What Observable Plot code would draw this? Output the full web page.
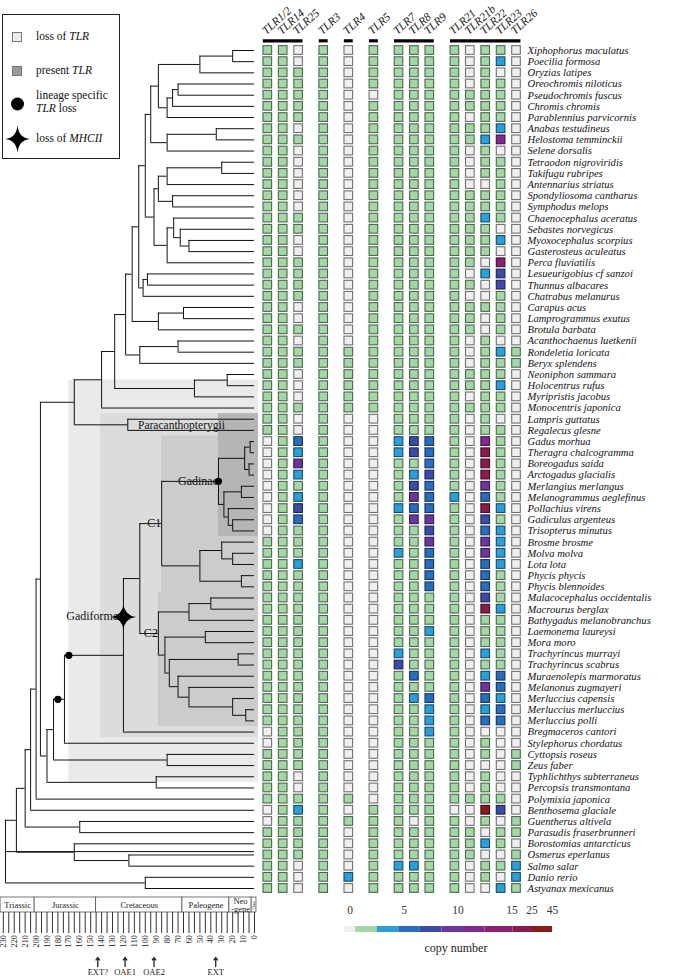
<!DOCTYPE html>
<html><head><meta charset="utf-8">
<script src="https://cdn.jsdelivr.net/npm/d3@7"></script>
<script src="https://cdn.jsdelivr.net/npm/@observablehq/plot@0.6"></script>
<style>
body{margin:0;background:#fff;}
#root{position:relative;width:676px;height:979px;overflow:hidden;font-family:"Liberation Serif",serif;}
#root svg.layer{position:absolute;left:0;top:0;}
#legend{position:absolute;left:2px;top:14px;width:118px;height:145px;border:1px solid #222;background:#fff;font-size:11.5px;color:#111;box-sizing:border-box;}
#legend .it{position:absolute;left:33px;line-height:13px;}
#legend i{font-style:italic;}
</style></head><body><div id="root">
<div id="legend">
  <svg width="118" height="145" style="position:absolute;left:0;top:0">
    <rect x="9.5" y="17.5" width="9" height="9" fill="#eeeeee" stroke="#777"/>
    <rect x="9.5" y="51.5" width="9" height="9" fill="#9a9a9a" stroke="#777"/>
    <circle cx="14.5" cy="89" r="6.5" fill="#000"/>
    <path d="M14.5,110 Q15.5,123 27,124 Q15.5,125 14.5,138 Q13.5,125 2,124 Q13.5,123 14.5,110Z" fill="#000"/>
  </svg>
  <div class="it" style="top:15px">loss of <i>TLR</i></div>
  <div class="it" style="top:49px">present <i>TLR</i></div>
  <div class="it" style="top:74px">lineage specific<br><i>TLR</i> loss</div>
  <div class="it" style="top:117px">loss of <i>MHCII</i></div>
</div>
</div>
<script>
// ---------------- DATA ----------------
const tlrGroups = [["TLR1/2","TLR14","TLR25"],["TLR3"],["TLR4"],["TLR5"],["TLR7","TLR8","TLR9"],["TLR21","TLR21b","TLR22","TLR23","TLR26"]];

const species = ["Xiphophorus maculatus","Poecilia formosa","Oryzias latipes","Oreochromis niloticus","Pseudochromis fuscus","Chromis chromis","Parablennius parvicornis","Anabas testudineus","Helostoma temminckii","Selene dorsalis","Tetraodon nigroviridis","Takifugu rubripes","Antennarius striatus","Spondyliosoma cantharus","Symphodus melops","Chaenocephalus aceratus","Sebastes norvegicus","Myoxocephalus scorpius","Gasterosteus aculeatus","Perca fluviatilis","Lesueurigobius cf sanzoi","Thunnus albacares","Chatrabus melanurus","Carapus acus","Lamprogrammus exutus","Brotula barbata","Acanthochaenus luetkenii","Rondeletia loricata","Beryx splendens","Neoniphon sammara","Holocentrus rufus","Myripristis jacobus","Monocentris japonica","Lampris guttatus","Regalecus glesne","Gadus morhua","Theragra chalcogramma","Boreogadus saida","Arctogadus glacialis","Merlangius merlangus","Melanogrammus aeglefinus","Pollachius virens","Gadiculus argenteus","Trisopterus minutus","Brosme brosme","Molva molva","Lota lota","Phycis phycis","Phycis blennoides","Malacocephalus occidentalis","Macrourus berglax","Bathygadus melanobranchus","Laemonema laureysi","Mora moro","Trachyrincus murrayi","Trachyrincus scabrus","Muraenolepis marmoratus","Melanonus zugmayeri","Merluccius capensis","Merluccius merluccius","Merluccius polli","Bregmaceros cantori","Stylephorus chordatus","Cyttopsis roseus","Zeus faber","Typhlichthys subterraneus","Percopsis transmontana","Polymixia japonica","Benthosema glaciale","Guentherus altivela","Parasudis fraserbrunneri","Borostomias antarcticus","Osmerus eperlanus","Salmo salar","Danio rerio","Astyanax mexicanus"];

// copy numbers, one row per species, columns in tlrGroups order
const copies = [
[1,1,0,1,0,1,1,1,1,1,0,1,1,0],[1,1,0,1,0,1,1,1,1,1,0,1,3,0],[1,1,1,1,0,1,1,1,1,1,0,1,0,0],[1,1,1,1,0,1,1,1,1,1,0,1,1,0],
[1,1,1,1,0,0,1,1,1,1,1,1,1,0],[1,1,1,1,0,1,1,1,1,1,1,1,1,0],[1,1,1,1,0,1,1,1,1,1,0,1,1,0],[1,1,0,1,0,1,1,1,1,1,1,1,3,0],
[1,1,1,1,0,1,1,1,1,1,1,3,12,0],[1,1,0,1,0,1,1,1,1,1,0,1,0,0],[1,1,0,1,0,1,1,1,1,1,0,1,1,0],[1,1,0,1,0,1,1,1,1,1,0,1,1,0],
[1,1,0,1,0,1,1,1,1,1,0,0,1,0],[1,1,0,1,0,1,1,1,1,1,1,1,1,0],[1,1,0,1,0,1,1,1,1,1,1,1,1,0],[1,1,1,1,0,1,1,1,1,1,1,3,1,0],
[1,1,1,1,0,1,1,1,1,1,1,1,0,0],[1,1,0,1,0,1,1,1,1,1,1,1,3,0],[1,1,0,1,0,1,1,1,1,1,1,1,0,0],[1,1,1,1,0,1,1,1,1,1,1,0,15,0],
[1,1,1,1,0,1,1,1,1,1,0,3,7,0],[1,1,1,1,0,1,1,1,1,1,1,0,7,0],[1,1,1,1,0,1,1,1,1,1,0,0,1,0],[1,1,0,1,0,1,1,1,1,1,1,1,1,0],
[1,1,0,1,0,1,1,1,1,1,1,0,1,0],[1,1,1,1,0,1,1,1,1,1,1,0,1,0],[1,1,0,1,0,1,1,1,1,1,0,1,0,0],[1,1,1,1,1,1,1,1,1,1,0,1,3,1],
[1,1,1,1,1,1,1,1,1,1,0,1,1,1],[1,1,0,1,1,1,1,1,1,1,1,1,1,0],[1,1,0,1,1,1,1,1,1,1,1,1,3,0],[1,1,0,1,1,1,1,1,1,1,0,1,1,0],
[1,1,1,1,1,1,1,1,1,1,1,1,1,0],[1,1,0,1,0,0,1,1,1,1,0,1,0,0],[1,1,0,1,0,0,1,1,1,1,0,1,1,0],
[0,1,5,1,0,0,3,7,5,1,0,12,1,0],[0,1,3,1,0,0,3,7,5,1,0,16,1,0],[0,1,10,1,0,0,1,1,5,1,0,16,1,0],[0,1,3,1,0,0,1,3,7,1,0,20,1,0],
[0,1,1,1,0,0,1,7,5,1,0,10,1,0],[0,1,3,1,0,0,1,10,5,3,0,5,1,0],[0,1,7,1,0,0,3,5,5,1,0,16,3,0],[0,1,5,1,0,0,1,10,10,1,0,7,1,0],
[0,1,1,1,0,0,1,1,7,1,0,5,3,0],[1,1,1,1,0,0,1,1,10,1,0,10,3,0],[1,1,1,1,0,0,3,1,5,1,0,10,3,0],[1,1,3,1,0,0,1,1,5,1,0,5,3,0],
[1,1,1,1,0,0,1,1,5,1,0,6,1,0],[1,1,1,1,0,0,1,1,6,1,0,5,1,0],[1,1,1,1,0,0,1,1,1,1,0,7,1,0],[1,1,1,1,0,0,1,1,1,1,0,16,3,0],
[1,1,1,1,0,0,1,1,1,1,0,1,1,0],[1,1,1,1,0,0,1,1,3,1,0,1,1,0],[1,1,1,1,0,0,1,1,1,1,0,1,1,0],[1,1,1,1,0,0,3,1,1,1,0,3,1,0],
[1,1,1,1,0,0,7,1,1,1,0,1,1,0],[1,1,1,1,0,0,1,5,1,1,0,3,5,0],[1,1,1,1,0,0,1,1,1,1,0,10,5,0],[1,1,1,1,0,0,1,3,5,1,0,5,3,0],
[1,1,1,1,0,0,1,1,3,1,0,3,5,0],[1,1,1,1,0,0,1,1,3,1,0,5,5,0],[0,1,1,1,0,0,1,1,3,1,0,0,0,0],[0,1,1,1,0,0,1,1,1,1,0,1,0,0],
[1,1,1,1,0,0,1,1,1,1,0,1,0,1],[1,1,1,1,0,0,1,1,1,1,0,0,0,1],[1,1,0,1,0,0,1,1,1,1,0,1,0,0],[1,1,0,1,0,0,1,1,1,1,0,1,0,0],
[1,1,1,1,1,0,1,1,1,1,1,1,1,0],[0,1,3,1,0,1,1,1,1,0,0,40,7,0],[0,1,1,1,1,1,1,0,1,1,0,1,0,1],[1,1,1,1,0,1,1,1,1,1,1,0,1,1],
[1,1,1,1,0,1,1,1,1,1,1,3,1,0],[1,1,1,1,0,1,1,1,1,1,1,0,0,1],[1,1,0,1,0,1,3,3,1,1,0,1,1,3],[1,1,0,1,3,1,1,1,1,1,0,1,0,3],
[1,1,0,1,0,1,1,1,1,1,0,0,3,1]
];

// time-calibrated tree, "(A,B)age" with node ages in Ma, assembled from named sub-trees
const treeOval = "((((Xiphophorus maculatus,Poecilia formosa)20,Oryzias latipes)50,(((Oreochromis niloticus,Pseudochromis fuscus)70,Chromis chromis)75,Parablennius parvicornis)80)88,((Anabas testudineus,Helostoma temminckii)35,Selene dorsalis)80)95";
const treeEuper = "((((Tetraodon nigroviridis,Takifugu rubripes)30,Antennarius striatus)80,(Spondyliosoma cantharus,Symphodus melops)75)88,((Chaenocephalus aceratus,(Sebastes norvegicus,(Myoxocephalus scorpius,Gasterosteus aculeatus)60)68)74,Perca fluviatilis)80)92";
const treePerco = "(((OVAL,EUPER)100,((Lesueurigobius cf sanzoi,Thunnus albacares)98,Chatrabus melanurus)102)106,((Carapus acus,Lamprogrammus exutus)65,Brotula barbata)88)112";
const treeAcan = "(((PERCO,((Acanthochaenus luetkenii,Rondeletia loricata)70,Beryx splendens)105)118,((Neoniphon sammara,Holocentrus rufus)25,Myripristis jacobus)55)128,Monocentris japonica)140";
const treeLamp = "(Lampris guttatus,Regalecus glesne)116";
const treeGadinae = "(((Gadus morhua,Theragra chalcogramma)4,(Boreogadus saida,Arctogadus glacialis)5)9,((Merlangius merlangus,Melanogrammus aeglefinus)12,(Pollachius virens,(Gadiculus argenteus,Trisopterus minutus)20)24)28)33";
const treeC1 = "(GADINAE,((Brosme brosme,(Molva molva,Lota lota)20)30,(Phycis phycis,Phycis blennoides)12)50)85";
const treeC2 = "(((Malacocephalus occidentalis,Macrourus berglax)40,Bathygadus melanobranchus)60,((Laemonema laureysi,Mora moro)45,((Trachyrincus murrayi,Trachyrincus scabrus)15,(Muraenolepis marmoratus,(Melanonus zugmayeri,(Merluccius capensis,(Merluccius merluccius,Merluccius polli)8)20)60)70)78)82)88";
const treeGad = "((C1,C2)105,Bregmaceros cantori)120";
const treePara = "(((GAD,Stylephorus chordatus)174,(Cyttopsis roseus,Zeus faber)80)184,(Typhlichthys subterraneus,Percopsis transmontana)90)190";
const treeRoot = "((((((((ACAN,LAMP)165,PARA)196,Polymixia japonica)200,Benthosema glaciale)205,(Guentherus altivela,Parasudis fraserbrunneri)160)210,(Borostomias antarcticus,(Osmerus eperlanus,Salmo salar)115)165)218,(Danio rerio,Astyanax mexicanus)100)228";

// shaded clades
const boxClades = ["Paracanthopterygii","Gadiformes","C1","C2","Gadinae"];
const boxFirst = ["Holocentrus rufus","Lampris guttatus","Gadus morhua","Malacocephalus occidentalis","Lampris guttatus"];
const boxLast = ["Typhlichthys subterraneus","Bregmaceros cantori","Phycis blennoides","Merluccius polli","Trisopterus minutus"];
const boxLeft = [170, 141, 85, 88, 33];
const boxFill = ["#eaeaea","#dcdcdc","#cccccc","#cccccc","#b5b5b5"];

// lineage-specific TLR loss: [clade first, clade last, age on branch]; MHCII loss
const tlrLossEvents = [["Gadus morhua","Trisopterus minutus",33],["Gadus morhua","Bregmaceros cantori",170],["Gadus morhua","Stylephorus chordatus",180]];
const mhcLossEvents = [["Gadus morhua","Bregmaceros cantori",120]];

// geological time scale
const periodNames = ["Triassic","Jurassic","Cretaceous","Paleogene","Neo\n-gene","Q"];
const periodStart = [232.5, 201.3, 145, 66, 23, 2.6];
const periodEnd = [201.3, 145, 66, 23, 2.6, -1.8];
const eventNames = ["EXT?","OAE1","OAE2","EXT"];
const eventAges = [143.5, 118.5, 92, 35.5];

// copy-number colour bins
const binLo = [0,1,3,5,7,9,11,13,16,26];
const binHi = [0,2,4,6,8,10,12,15,25,45];
const binColors = ["#efefef","#a3d7a6","#2c9fd7","#2a6cbe","#3c4ca6","#6c379d","#86298f","#8d2170","#8a1c4c","#8b1a1a"];
const legendTicks = [0,5,10,15,25,45];

// ---------------- BUILD ----------------
const W = 676, H = 979;
const newick = treeRoot.replace("ACAN",treeAcan.replace("PERCO",treePerco.replace("OVAL",treeOval).replace("EUPER",treeEuper)))
  .replace("LAMP",treeLamp)
  .replace("PARA",treePara.replace("GAD",treeGad.replace("C1",treeC1.replace("GADINAE",treeGadinae)).replace("C2",treeC2)));
const color = d3.scaleThreshold().domain(binLo.slice(1)).range(binColors);
const rowOf = new Map(species.map((s,i)=>[s,i+1]));
const yScale = {domain:[1,species.length], range:[50,888], axis:null};
const xTime = {domain:[230,0], range:[2.8,254]};
const serif = "Liberation Serif";

function parse(s){
  let i=0;
  function node(){
    if(s[i]==="("){
      i++; const children=[];
      while(true){ children.push(node()); if(s[i]===","){i++;continue;} break; }
      i++; let num=""; while(i<s.length && /[0-9.]/.test(s[i])) num+=s[i++];
      return {children, age:+num};
    }
    let name=""; while(i<s.length && !/[,()]/.test(s[i])) name+=s[i++];
    return {name:name.trim(), age:0};
  }
  return node();
}
const tree = parse(newick);
const allNodes=[];
(function walk(n){
  allNodes.push(n);
  if(n.children){ n.children.forEach(walk);
    n.tips=new Set(n.children.flatMap(c=>[...c.tips]));
    n.y=(n.children[0].y+n.children[n.children.length-1].y)/2;
  } else { n.y=rowOf.get(n.name); n.tips=new Set([n.name]); }
})(tree);
const vsegs=[], hsegs=[];
allNodes.forEach(n=>{ if(n.children){
  vsegs.push({x:n.age,y1:n.children[0].y,y2:n.children[n.children.length-1].y});
  n.children.forEach(c=>hsegs.push({y:c.y,x1:n.age,x2:c.age}));
}});
function mrca(a,b){ let best=null; allNodes.forEach(n=>{ if(n.children&&n.tips.has(a)&&n.tips.has(b)&&(!best||n.tips.size<best.tips.size)) best=n;}); return best; }

const boxes = boxClades.map((c,i)=>({clade:c, x1:boxLeft[i], x2:-3.6, y1:rowOf.get(boxFirst[i])-0.5, y2:rowOf.get(boxLast[i])+0.5, fill:boxFill[i]}));
const lossDots = tlrLossEvents.map(([a,b,t])=>({x:t,y:mrca(a,b).y}));
// MHCII star sits on the clade's node connector, between the node and its first child
const mhcDots = mhcLossEvents.map(([a,b,t])=>{ const n=mrca(a,b); return {x:t,y:(n.y+n.children[0].y)/2}; });

const star4 = {draw(ctx,size){ const R=Math.sqrt(size/Math.PI), r=R*0.12;
  ctx.moveTo(0,-R); ctx.quadraticCurveTo(r,-r,R,0); ctx.quadraticCurveTo(r,r,0,R); ctx.quadraticCurveTo(-r,r,-R,0); ctx.quadraticCurveTo(-r,-r,0,-R); ctx.closePath(); }};

const nodeGadinae = mrca("Gadus morhua","Trisopterus minutus");
const nodeC1 = mrca("Gadus morhua","Phycis blennoides");
const nodeC2 = mrca("Malacocephalus occidentalis","Merluccius polli");
const endLabels = [
  {t:"Gadinae", x:nodeGadinae.age, y:nodeGadinae.y, dx:-8, dy:-10},
  {t:"C1", x:nodeC1.age, y:nodeC1.y, dx:-4, dy:-17},
  {t:"C2", x:nodeC2.age, y:nodeC2.y, dx:-5, dy:-12},
  {t:"Gadiformes", x:mhcDots[0].x, y:mhcDots[0].y, dx:-22, dy:-13}
];
const midLabels = [{t:"Paracanthopterygii", x:nodeGadinae.age, y:rowOf.get("Gadus morhua")}];

const treePlot = Plot.plot({
  width:W, height:H, margin:0, style:{background:"none"},
  x:{...xTime, axis:null}, y:yScale,
  marks:[
    Plot.rect(boxes,{x1:"x1",x2:"x2",y1:"y1",y2:"y2",fill:"fill"}),
    Plot.ruleX(vsegs,{x:"x",y1:"y1",y2:"y2",stroke:"#111",strokeWidth:1}),
    Plot.ruleY(hsegs,{y:"y",x1:"x1",x2:"x2",stroke:"#111",strokeWidth:1}),
    Plot.text(endLabels,{x:"x",y:"y",text:"t",dx:"dx",dy:"dy",textAnchor:"end",fontFamily:serif,fontSize:12,fill:"#111"}),
    Plot.text(midLabels,{x:"x",y:"y",text:"t",dx:-37,dy:-16,textAnchor:"middle",fontFamily:serif,fontSize:11.5,fill:"#111"}),
    Plot.dot(lossDots,{x:"x",y:"y",r:3.6,fill:"#000"}),
    Plot.dot(mhcDots,{x:"x",y:"y",r:12.5,symbol:star4,fill:"#000"})
  ]
});

// heat-map grid
const gap = 0.63;
const cols = tlrGroups.flatMap((g,gi)=>g.map(name=>({name,group:gi})));
cols.forEach((c,i)=>c.slot=i+c.group*gap);
const lastSlot = cols[cols.length-1].slot;
const cells = [];
copies.forEach((row,i)=>row.forEach((n,j)=>cells.push({row:i+1,slot:cols[j].slot,n})));
const groupBars = tlrGroups.map((g,gi)=>{ const cs=cols.filter(c=>c.group===gi); return {x1:cs[0].slot-0.29,x2:cs[cs.length-1].slot+0.29}; });

const gridPlot = Plot.plot({
  width:W, height:H, margin:0, style:{background:"none"},
  x:{domain:[0,lastSlot], range:[267.3,516], axis:null}, y:yScale,
  marks:[
    Plot.rect(cells,{x1:d=>d.slot-0.28,x2:d=>d.slot+0.28,y1:d=>d.row-0.39,y2:d=>d.row+0.39,
      fill:d=>color(d.n), stroke:d=>d3.color(color(d.n)).darker(2.1).formatHex(), strokeWidth:1.1}),
    Plot.ruleY(groupBars,{y:0,x1:"x1",x2:"x2",stroke:"#000",strokeWidth:3.2,dy:1.5}),
    Plot.text(cols,{x:"slot",y:0,text:"name",rotate:-42,textAnchor:"start",dx:-4,dy:-7,fontStyle:"italic",fontFamily:serif,fontSize:11.5,fill:"#111"}),
    Plot.text(species,{x:lastSlot,y:(d,i)=>i+1,text:d=>d,dx:11,textAnchor:"start",fontStyle:"italic",fontFamily:serif,fontSize:10.6,fill:"#111"})
  ]
});

// geological time axis (lanes: 0 top of period row, 1 bottom, 2.4 tick end, 4-4.6 arrows, 5 event labels)
const periods = periodNames.map((p,i)=>({p,s:periodStart[i],e:periodEnd[i]}));
const events = eventNames.map((e,i)=>({e,t:eventAges[i]}));
const axisPlot = Plot.plot({
  width:W, height:H, margin:0, style:{background:"none"},
  x:{...xTime, axis:null}, y:{domain:[0,5], range:[897,972], axis:null},
  marks:[
    Plot.rect(periods,{x1:"s",x2:"e",y1:()=>0,y2:()=>1,fill:"#fff",stroke:"#555",strokeWidth:0.8}),
    Plot.text(periods.filter(d=>d.p!=="Q"),{x:d=>(d.s+d.e)/2,y:()=>0.5,text:"p",fontFamily:serif,fontSize:8.5,fill:"#222",lineHeight:0.95}),
    Plot.text(periods.filter(d=>d.p==="Q"),{x:d=>(d.s+d.e)/2,y:()=>0.5,text:()=>"Quat",rotate:-90,fontFamily:serif,fontSize:4,fill:"#333"}),
    Plot.ruleX(d3.range(0,231,5),{x:d=>d,y1:()=>1,y2:()=>2.4,stroke:"#333",strokeWidth:1}),
    Plot.text(d3.range(0,231,10),{x:d=>d,y:()=>2.5,text:d=>String(d),rotate:-90,textAnchor:"end",fontFamily:serif,fontSize:8.3,fill:"#222"}),
    Plot.arrow(events,{x1:"t",x2:"t",y1:()=>4.6,y2:()=>4.0,stroke:"#222",strokeWidth:1.3,headLength:6,headAngle:70}),
    Plot.text(events,{x:"t",y:()=>5,text:"e",fontFamily:serif,fontSize:8.5,fill:"#222"})
  ]
});

// copy-number legend: value -> bar position (linear to 15, compressed above)
const legendPos = d3.scaleLinear().domain([-0.9,15,25,45]).range([-0.9,15,16.85,18.75]);
const bins = binLo.map((lo,i)=>({x1:legendPos(Math.max(lo-0.5,-0.9)),x2:legendPos(Math.min(binHi[i]+0.5,45)),fill:binColors[i]}));
const legendPlot = Plot.plot({
  width:W, height:H, margin:0, style:{background:"none"},
  x:{domain:[-0.9,18.75], range:[340,552], axis:null}, y:{domain:[0,1], range:[926,932], axis:null},
  marks:[
    Plot.rect(bins,{x1:"x1",x2:"x2",y1:()=>0,y2:()=>1,fill:"fill"}),
    Plot.text(legendTicks,{x:d=>legendPos(d),y:()=>0,dy:-16,text:d=>String(d),fontFamily:serif,fontSize:11.5,fill:"#333"}),
    Plot.text(["copy number"],{x:()=>legendPos(9.8),y:()=>1,dy:16,text:d=>d,fontFamily:serif,fontSize:12,fill:"#222"})
  ]
});

const root=document.getElementById("root");
[treePlot,axisPlot,gridPlot,legendPlot].forEach(p=>{p.classList.add("layer"); root.insertBefore(p, document.getElementById("legend"));});
</script>
</body></html>
